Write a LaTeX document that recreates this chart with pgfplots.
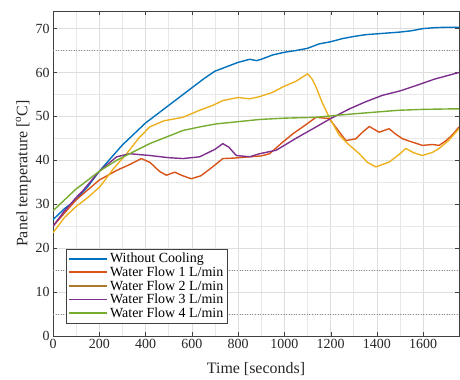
\documentclass[border=0pt]{standalone}
\usepackage{pgfplots}
\pgfplotsset{compat=1.18}
\usepackage{fontspec}
\setmainfont{Liberation Serif}
\definecolor{mblue}{HTML}{0072BD}
\definecolor{morange}{HTML}{D95319}
\definecolor{myellow}{HTML}{EDB120}
\definecolor{mbrown}{HTML}{A87A2A}
\definecolor{mpurple}{HTML}{7E2F8E}
\definecolor{mgreen}{HTML}{77AC30}
\definecolor{axgray}{HTML}{404040}
\begin{document}
\begin{tikzpicture}
\begin{axis}[
  scale only axis,
  width=406bp, height=325bp,
  xmin=0, xmax=1755, ymin=0, ymax=74,
  xtick={0,200,...,1600}, ytick={0,10,...,70},
  minor x tick num=1, minor y tick num=1,
  grid=both,
  major grid style={draw=black!13, line width=0.6pt},
  minor grid style={draw=black!9, line width=0.5pt},
  axis line style={draw=axgray, line width=0.8pt},
  tick style={draw=axgray},
  major tick length=4pt, minor tick length=0pt,
  extra y ticks={5,15,65},
  extra y tick labels={},
  extra y tick style={grid=major, major grid style={draw=black!45, dotted, line width=0.6pt}, major tick length=0pt},
  /pgf/number format/assume math mode=true,
  /pgf/number format/1000 sep={},
  tick label style={font=\fontsize{14}{16}\selectfont, text=black!85},
  xlabel={Time [seconds]},
  ylabel={Panel temperature [\textsuperscript{o}C]},
  every axis x label/.style={at={(axis description cs:0.5,-0.103)}, anchor=center, font=\fontsize{16}{18}\selectfont, text=black!85},
  every axis y label/.style={at={(axis description cs:-0.073,0.5)}, anchor=center, rotate=90, font=\fontsize{16}{18}\selectfont, text=black!85},
  legend style={at={(0.032,0.268)}, anchor=north west, draw=axgray, fill=white,
    font=\fontsize{14}{15}\selectfont, row sep=-1.5pt, inner sep=2pt, cells={anchor=west}},
  legend cell align=left,
  legend image code/.code={\draw[#1, line width=1.7pt] (0cm,0cm) -- (1.35cm,0cm);},
  every axis plot/.append style={line width=1.4pt, line join=round},
]
\addplot[mblue] coordinates {
(0,26.5) (50,29) (100,31) (150,34) (200,37.5) (250,40.5) (300,43.5) (350,46) (400,48.5) (450,50.5)
(500,52.5) (550,54.5) (600,56.5) (650,58.5) (700,60.3) (750,61.3) (800,62.3) (850,63) (880,62.7) (900,63)
(950,64) (1000,64.6) (1050,65) (1100,65.5) (1150,66.5) (1200,67) (1250,67.7) (1300,68.2) (1350,68.6)
(1400,68.8) (1450,69) (1500,69.2) (1550,69.5) (1600,70) (1650,70.2) (1700,70.3) (1755,70.3)
};
\addlegendentry{Without Cooling}
\addplot[morange] coordinates {
(0,25) (50,28) (100,31) (131,32.4) (200,35.5) (275,37.7) (330,39) (382,40.4) (420,39.5) (460,37.5)
(490,36.6) (526,37.3) (560,36.5) (598,35.8) (640,36.5) (690,38.5) (734,40.4) (780,40.5) (849,40.8)
(900,41) (936,41.5) (990,44) (1036,46) (1090,48) (1137,49.8) (1194,49.5) (1230,47) (1266,44.5)
(1309,44.9) (1340,46.5) (1367,47.7) (1410,46.4) (1453,47.2) (1480,46) (1511,44.9) (1550,44.2)
(1597,43.4) (1640,43.6) (1669,43.4) (1700,44.5) (1730,46) (1755,47.6)
};
\addlegendentry{Water Flow 1 L/min}
\addplot[myellow, legend image post style={mbrown}] coordinates {
(0,23.5) (50,27) (100,29.5) (150,31.5) (203,34) (260,38) (318,41.5) (370,45) (418,47.6) (480,49)
(562,49.8) (634,51.4) (690,52.5) (734,53.6) (800,54.3) (850,54) (893,54.5) (950,55.5) (993,56.7)
(1050,58) (1101,59.7) (1120,58.5) (1137,56.7) (1165,53) (1194,49.8) (1238,45.7) (1280,43.5)
(1324,41.5) (1360,39.5) (1396,38.5) (1453,39.6) (1500,41.5) (1525,42.7) (1560,41.7) (1597,41.1)
(1640,41.8) (1669,42.7) (1710,44.5) (1755,47.2)
};
\addlegendentry{Water Flow 2 L/min}
\addplot[mpurple] coordinates {
(0,25) (50,28.5) (100,31.5) (131,33.2) (200,37.5) (275,40.8) (332,41.5) (418,41.1) (500,40.6)
(562,40.4) (634,40.8) (700,42.5) (734,43.8) (760,43) (792,41.1) (850,40.8) (893,41.5) (965,42.3)
(1050,45) (1137,47.6) (1200,49.5) (1281,51.7) (1350,53.3) (1424,54.8) (1500,55.8) (1568,57)
(1650,58.5) (1755,60)
};
\addlegendentry{Water Flow 3 L/min}
\addplot[mgreen] coordinates {
(0,28.5) (50,31) (100,33.5) (131,34.7) (200,37.5) (275,40) (350,42) (418,43.8) (490,45.3)
(562,46.8) (634,47.6) (706,48.3) (800,48.8) (893,49.3) (1000,49.6) (1137,49.8) (1281,50.5)
(1400,51) (1496,51.4) (1600,51.6) (1712,51.7) (1755,51.7)
};
\addlegendentry{Water Flow 4 L/min}
\end{axis}
\path (current axis.south west) ++(-53bp,-43bp);
\path (current axis.north east) ++(1bp,11bp);
\end{tikzpicture}
\end{document}
